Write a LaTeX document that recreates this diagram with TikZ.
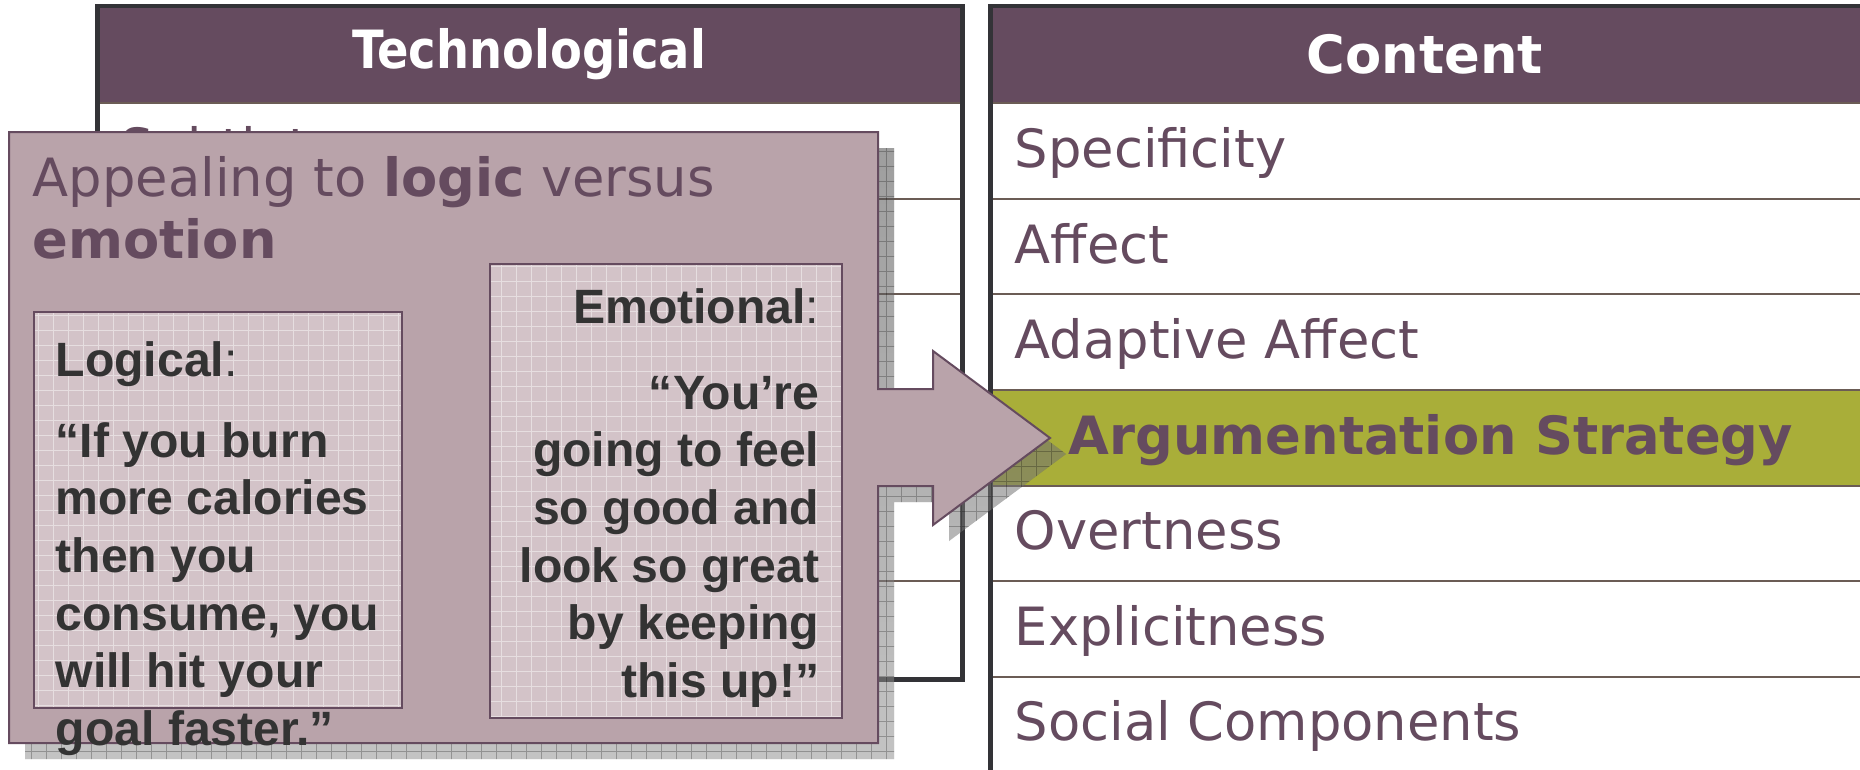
\documentclass[tikz,border=0pt]{standalone}
\usepackage{fontspec}
\setmainfont{DejaVu Sans}
\newfontfamily\quotefont{Liberation Sans}
\usepackage{tikz}
\usetikzlibrary{calc}

\definecolor{plum}{HTML}{654B5F}
\definecolor{mauve}{HTML}{B9A3AA}
\definecolor{pale}{HTML}{D3C3C8}
\definecolor{moss}{HTML}{A9AE39}
\definecolor{ink}{HTML}{333333}
\definecolor{framegray}{HTML}{333337}
\definecolor{rulebrown}{HTML}{6B5C55}
\definecolor{shade}{HTML}{7D7070}

\tikzset{
  frameline/.style={draw=framegray, line width=0.5mm},
  rowline/.style={draw=rulebrown, line width=0.2mm},
  headtext/.style={text=white, inner sep=0pt, font=\fontsize{15}{18}\selectfont\bfseries},
  rowtext/.style={anchor=base west, text=plum, inner sep=0pt, font=\fontsize{15}{18}\selectfont},
  quotetext/.style={text=ink, inner sep=0pt, font=\quotefont\fontsize{13.7}{16.4}\selectfont\bfseries},
  gridbox/.style={draw=plum, line width=0.15mm, fill=pale, path picture={\draw[white, opacity=0.45, line width=0.1mm, step=1.5mm] (path picture bounding box.south west) grid (path picture bounding box.north east);}}
}

\begin{document}
\begin{tikzpicture}[x=0.1mm, y=-0.1mm]
\useasboundingbox (0,0) rectangle (1860,770);
\fill[white] (0,0) rectangle (1860,770);

\fill[plum] (97,6) rectangle (962,103);
\foreach \y in {103,199,294,390,486,581} \draw[rowline] (97,\y) -- (962,\y);
\draw[frameline] (97,6) rectangle (962,679);
\node (T) at (529,54) [headtext] {\scalebox{0.88}[1]{Technological}};
\node (T1) at (120,166) [rowtext] {Subtlety};

\fill[plum] (990,6) rectangle (1880,103);
\fill[moss] (990,390) rectangle (1880,486);
\foreach \y in {103,199,294,390,486,581,677} \draw[rowline] (990,\y) -- (1880,\y);
\draw[frameline] (990,800) -- (990,6) -- (1880,6);
\node (C) at (1425,54) [headtext] {Content};
\node (C1) at (1014,167) [rowtext] {Specificity};
\node (C2) at (1014,263) [rowtext] {Affect};
\node (C3) at (1014,358) [rowtext] {Adaptive Affect};
\node (C4) at (1068,454) [rowtext, font=\fontsize{15}{18}\selectfont\bfseries] {Argumentation Strategy};
\node (C5) at (1014,549) [rowtext] {Overtness};
\node (C6) at (1014,645) [rowtext] {Explicitness};
\node (C7) at (1014,740) [rowtext] {Social Components};

\begin{scope}[shift={(16,16)}]
\clip (9,132) -- (878,132) -- (878,389) -- (933,389) -- (933,351) -- (1050,438) -- (933,525) -- (933,486) -- (878,486) -- (878,743) -- (9,743) -- cycle;
\fill[shade, opacity=0.33] (0,100) rectangle (1100,800);
\draw[shade, opacity=0.25, line width=0.08mm, step=1.5mm] (0,100) grid (1100,800);
\end{scope}
\draw[plum, line width=0.2mm, fill=mauve] (9,132) -- (878,132) -- (878,389) -- (933,389) -- (933,351) -- (1050,438) -- (933,525) -- (933,486) -- (878,486) -- (878,743) -- (9,743) -- cycle;

\node (A) at (32,156) [anchor=north west, align=left, inner sep=0pt, text=plum, font=\fontsize{15}{17.6}\selectfont] {Appealing to \textbf{logic} versus\\\textbf{emotion}};

\node (L) at (218,510) [gridbox, minimum width=36.8mm, minimum height=39.6mm] {};
\node (E) at (666,491) [gridbox, minimum width=35.2mm, minimum height=45.4mm] {};

\node (Ltext) at (55,341) [quotetext, anchor=north west, align=left] {Logical{\mdseries :}\\[2.3mm]“If you burn\\more calories\\then you\\consume, you\\will hit your\\goal faster.”};
\node (Etext) at (820,288) [quotetext, anchor=north east, align=right] {Emotional{\mdseries :}\\[2.8mm]“You’re\\going to feel\\so good and\\look so great\\by keeping\\this up!”};
\end{tikzpicture}
\end{document}
